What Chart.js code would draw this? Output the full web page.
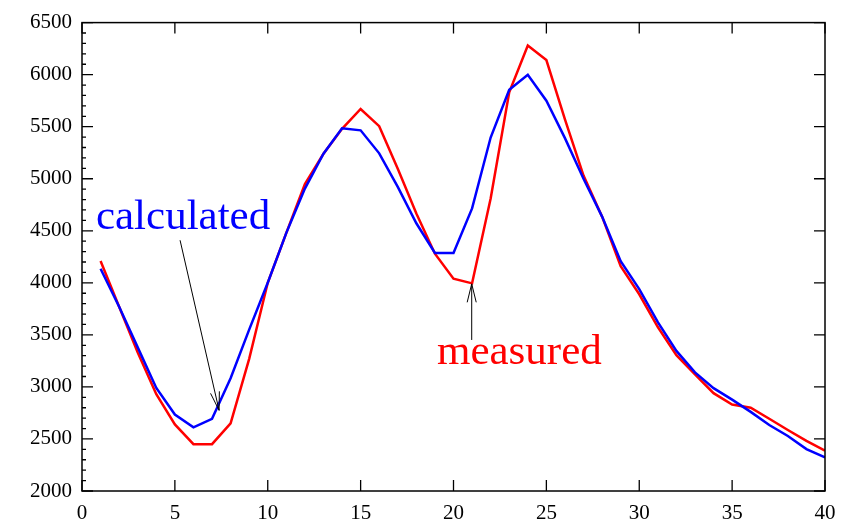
<!DOCTYPE html>
<html>
<head>
<meta charset="utf-8">
<script src="https://cdn.jsdelivr.net/npm/chart.js@4.4.1/dist/chart.umd.min.js"></script>
<style>
  html, body { margin: 0; padding: 0; background: #fff; }
  #wrap { width: 850px; height: 521px; position: relative; }
</style>
</head>
<body>
<div id="wrap"><canvas id="c" width="850" height="521"></canvas></div>
<script>
// Sample index along the profile
const positions = [1,2,3,4,5,6,7,8,9,10,11,12,13,14,15,16,17,18,19,20,
                   21,22,23,24,25,26,27,28,29,30,31,32,33,34,35,36,37,38,39,40];

// Measured values
const measured = [4210,3770,3330,2930,2640,2450,2450,2650,3270,4000,
                  4480,4950,5240,5480,5670,5505,5095,4665,4280,4040,
                  3995,4810,5830,6280,6140,5570,5030,4636,4160,3890,
                  3575,3305,3120,2940,2830,2800,2694,2586,2482,2387];

// Calculated values
const calculated = [4135,3770,3380,2990,2735,2612,2694,3083,3550,4000,
                    4480,4905,5240,5484,5465,5244,4921,4572,4287,4287,
                    4715,5396,5855,5998,5750,5390,5000,4636,4208,3939,
                    3622,3346,3140,2988,2878,2760,2634,2529,2403,2323];

const xTicks = [0,5,10,15,20,25,30,35,40];
const yTicks = [2000,2500,3000,3500,4000,4500,5000,5500,6000,6500];

const SERIF = "'Liberation Serif', 'DejaVu Serif', serif";

const toPoints = (ys) => positions.map((x, i) => ({ x: x, y: ys[i] }));

// Frame, inward ticks and the two labelled arrows
const framePlugin = {
  id: 'frame',
  afterDraw(chart) {
    const { ctx, chartArea: a, scales } = chart;
    const xs = scales.x, ys = scales.y;
    ctx.save();
    ctx.strokeStyle = '#000';
    ctx.lineWidth = 1.5;
    ctx.strokeRect(a.left, a.top, a.right - a.left, a.bottom - a.top);

    ctx.lineWidth = 1.3;
    ctx.beginPath();
    xTicks.forEach(v => {
      const px = xs.getPixelForValue(v);
      ctx.moveTo(px, a.bottom); ctx.lineTo(px, a.bottom - 11);
      ctx.moveTo(px, a.top); ctx.lineTo(px, a.top + 11);
    });
    yTicks.forEach(v => {
      const py = ys.getPixelForValue(v);
      ctx.moveTo(a.left, py); ctx.lineTo(a.left + 11, py);
      ctx.moveTo(a.right, py); ctx.lineTo(a.right - 11, py);
    });
    // minor ticks on the left axis
    for (let v = 2000; v <= 6500; v += 100) {
      if (v % 500 === 0) continue;
      const py = ys.getPixelForValue(v);
      ctx.moveTo(a.left, py); ctx.lineTo(a.left + 4, py);
    }
    ctx.stroke();

    const arrow = (x0, y0, x1, y1) => {
      const p0 = { x: xs.getPixelForValue(x0), y: ys.getPixelForValue(y0) };
      const p1 = { x: xs.getPixelForValue(x1), y: ys.getPixelForValue(y1) };
      const ang = Math.atan2(p1.y - p0.y, p1.x - p0.x);
      const L = 19, spread = 0.24;
      ctx.beginPath();
      ctx.moveTo(p0.x, p0.y); ctx.lineTo(p1.x, p1.y);
      ctx.moveTo(p1.x - L * Math.cos(ang - spread), p1.y - L * Math.sin(ang - spread));
      ctx.lineTo(p1.x, p1.y);
      ctx.lineTo(p1.x - L * Math.cos(ang + spread), p1.y - L * Math.sin(ang + spread));
      ctx.stroke();
    };
    ctx.strokeStyle = '#000';
    ctx.lineWidth = 1;
    arrow(5.28, 4409, 7.38, 2775);
    arrow(20.98, 3451, 20.98, 3990);

    ctx.font = '43px ' + SERIF;
    ctx.textBaseline = 'alphabetic';
    ctx.textAlign = 'left';
    ctx.fillStyle = '#0000ff';
    ctx.fillText('calculated', xs.getPixelForValue(0.75), ys.getPixelForValue(4515));
    ctx.fillStyle = '#ff0000';
    ctx.fillText('measured', xs.getPixelForValue(19.11), ys.getPixelForValue(3223));
    ctx.restore();
  }
};

new Chart(document.getElementById('c'), {
  type: 'line',
  data: {
    datasets: [
      { label: 'calculated', data: toPoints(calculated), borderColor: '#0000ff',
        borderWidth: 2.5, pointRadius: 0, tension: 0, fill: false },
      { label: 'measured', data: toPoints(measured), borderColor: '#ff0000',
        borderWidth: 2.5, pointRadius: 0, tension: 0, fill: false }
    ]
  },
  options: {
    responsive: false,
    animation: false,
    layout: { padding: { left: 0, right: 25, top: 17, bottom: 0 } },
    plugins: { legend: { display: false }, tooltip: { enabled: false } },
    scales: {
      x: {
        type: 'linear', min: 0, max: 40,
        afterFit(s) { s.height = 30; },
        afterBuildTicks(s) { s.ticks = xTicks.map(v => ({ value: v })); },
        grid: { display: false, drawTicks: false },
        border: { display: false },
        ticks: { color: '#000', padding: 10, font: { family: SERIF, size: 21 },
                 callback: (v) => String(v) }
      },
      y: {
        type: 'linear', min: 2000, max: 6500,
        afterFit(s) { s.width = 82; },
        afterBuildTicks(s) { s.ticks = yTicks.map(v => ({ value: v })); },
        grid: { display: false, drawTicks: false },
        border: { display: false },
        ticks: { color: '#000', padding: 10, font: { family: SERIF, size: 21 },
                 callback: (v) => String(v) }
      }
    }
  },
  plugins: [framePlugin]
});
</script>
</body>
</html>
